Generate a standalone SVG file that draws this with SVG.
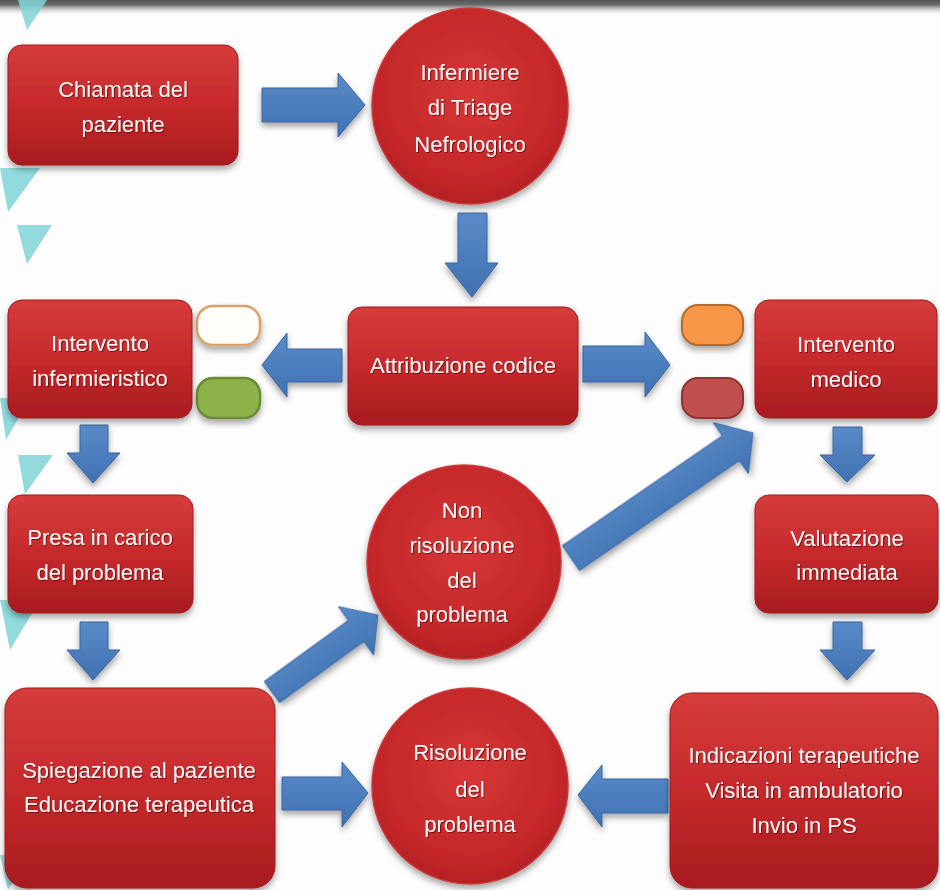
<svg xmlns="http://www.w3.org/2000/svg" width="940" height="890" viewBox="0 0 940 890">
<defs>
  <linearGradient id="gRed" x1="0" y1="0" x2="0" y2="1">
    <stop offset="0" stop-color="#d63c3c"/>
    <stop offset="0.5" stop-color="#c62a2c"/>
    <stop offset="1" stop-color="#a81c1f"/>
  </linearGradient>
  <radialGradient id="gCirc" cx="0.5" cy="0.42" r="0.6">
    <stop offset="0" stop-color="#d63636"/>
    <stop offset="0.8" stop-color="#c32729"/>
    <stop offset="1" stop-color="#b01f22"/>
  </radialGradient>
  <linearGradient id="gBlue" x1="0" y1="0" x2="0" y2="1">
    <stop offset="0" stop-color="#5a8bc8"/>
    <stop offset="1" stop-color="#3f71b2"/>
  </linearGradient>
  <linearGradient id="gTop" x1="0" y1="0" x2="0" y2="1">
    <stop offset="0" stop-color="#555555"/>
    <stop offset="0.3" stop-color="#6a6a6a"/>
    <stop offset="1" stop-color="#ffffff" stop-opacity="0"/>
  </linearGradient>
  <filter id="sh" x="-20%" y="-20%" width="140%" height="150%">
    <feDropShadow dx="0" dy="4" stdDeviation="3" flood-color="#000" flood-opacity="0.35"/>
  </filter>
  <filter id="tsh" x="-10%" y="-30%" width="120%" height="160%">
    <feDropShadow dx="1" dy="1" stdDeviation="0.6" flood-color="#5a0000" flood-opacity="0.7"/>
  </filter>
  <style>
    .box{fill:url(#gRed);stroke:#9c1a1d;stroke-width:1;filter:url(#sh);}
    .circ{fill:url(#gCirc);stroke:#c9383a;stroke-width:1.5;filter:url(#sh);}
    .arr{fill:url(#gBlue);stroke:#3a64a0;stroke-width:1;filter:url(#sh);}
    .lbl{font-family:"Liberation Sans",Arial,sans-serif;font-size:22px;fill:#fbf3f3;text-anchor:middle;filter:url(#tsh);}
    .tri{fill:#7fd3d6;opacity:0.85;}
  </style>
</defs>

<rect x="0" y="0" width="940" height="890" fill="#fdfdfd"/>
<rect x="0" y="0" width="940" height="16" fill="url(#gTop)"/>

<g id="decor">
  <polygon class="tri" points="18,0 47,0 27,30"/>
  <polygon class="tri" points="0,168 40,168 8,212"/>
  <polygon class="tri" points="17,225 52,225 27,264"/>
  <polygon class="tri" points="0,398 30,398 6,440"/>
  <polygon class="tri" points="18,455 53,455 25,494"/>
  <polygon class="tri" points="0,600 40,600 10,650"/>
  <polygon class="tri" points="0,855 30,855 8,890"/>
</g>

<g id="connectors">
  <path class="arr" d="M262,88 L338,88 L338,73 L365,105 L338,137 L338,122 L262,122 Z"/>
  <path class="arr" d="M458,213 L487,213 L487,263 L498,263 L472,297 L445,263 L458,263 Z"/>
  <path class="arr" d="M342,349 L287,349 L287,333 L262,365 L287,397 L287,382 L342,382 Z"/>
  <path class="arr" d="M583,346 L645,346 L645,332 L670,365 L645,397 L645,382 L583,382 Z"/>
  <path class="arr" d="M80,425 L108,425 L108,453 L120,453 L93,483 L67,453 L80,453 Z"/>
  <path class="arr" d="M80,622 L108,622 L108,650 L120,650 L93,680 L67,650 L80,650 Z"/>
  <path class="arr" d="M833,427 L862,427 L862,455 L875,455 L847,482 L820,455 L833,455 Z"/>
  <path class="arr" d="M833,622 L862,622 L862,650 L875,650 L847,680 L820,650 L833,650 Z"/>
  <path class="arr" d="M282,777 L342,777 L342,762 L368,793 L342,827 L342,810 L282,810 Z"/>
  <path class="arr" d="M668,779 L602,779 L602,765 L578,795 L602,827 L602,813 L668,813 Z"/>
  <path class="arr" transform="translate(272,692) rotate(-36)" d="M0,-13 L104,-13 L104,-30 L131,0 L104,30 L104,13 L0,13 Z"/>
  <path class="arr" transform="translate(571,558) rotate(-34.5)" d="M0,-15 L194,-15 L194,-31 L221,0 L194,31 L194,15 L0,15 Z"/>
</g>

<g id="pills">
  <rect x="197" y="306" width="63" height="39" rx="16" fill="#fffdf8" stroke="#d6a36c" stroke-width="2.5" filter="url(#sh)"/>
  <rect x="197" y="378" width="63" height="40" rx="16" fill="#8db24a" stroke="#6a8a36" stroke-width="2.5" filter="url(#sh)"/>
  <rect x="682" y="305" width="61" height="40" rx="16" fill="#f79646" stroke="#b46a2c" stroke-width="2" filter="url(#sh)"/>
  <rect x="682" y="378" width="61" height="40" rx="16" fill="#c0504d" stroke="#8c3533" stroke-width="2" filter="url(#sh)"/>
</g>

<g id="n-chiamata">
  <rect class="box" x="8" y="45" width="230" height="120" rx="14"/>
  <text class="lbl" x="123" y="97">Chiamata del</text>
  <text class="lbl" x="123" y="132">paziente</text>
</g>

<g id="n-infermiere">
  <circle class="circ" cx="470" cy="106" r="98"/>
  <text class="lbl" x="470" y="80">Infermiere</text>
  <text class="lbl" x="470" y="115">di Triage</text>
  <text class="lbl" x="470" y="152">Nefrologico</text>
</g>

<g id="n-attribuzione">
  <rect class="box" x="348" y="307" width="230" height="118" rx="14"/>
  <text class="lbl" x="463" y="373">Attribuzione codice</text>
</g>

<g id="n-int-inf">
  <rect class="box" x="8" y="300" width="184" height="118" rx="14"/>
  <text class="lbl" x="100" y="351">Intervento</text>
  <text class="lbl" x="100" y="386">infermieristico</text>
</g>

<g id="n-int-med">
  <rect class="box" x="755" y="300" width="182" height="118" rx="14"/>
  <text class="lbl" x="846" y="352">Intervento</text>
  <text class="lbl" x="846" y="387">medico</text>
</g>

<g id="n-presa">
  <rect class="box" x="8" y="495" width="185" height="118" rx="14"/>
  <text class="lbl" x="100" y="545">Presa in carico</text>
  <text class="lbl" x="100" y="580">del problema</text>
</g>

<g id="n-valutazione">
  <rect class="box" x="755" y="495" width="183" height="118" rx="14"/>
  <text class="lbl" x="847" y="546">Valutazione</text>
  <text class="lbl" x="847" y="580">immediata</text>
</g>

<g id="n-non-risoluzione">
  <circle class="circ" cx="464" cy="562" r="97"/>
  <text class="lbl" x="462" y="518">Non</text>
  <text class="lbl" x="462" y="553">risoluzione</text>
  <text class="lbl" x="462" y="588">del</text>
  <text class="lbl" x="462" y="622">problema</text>
</g>

<g id="n-spiegazione">
  <rect class="box" x="5" y="688" width="270" height="200" rx="22"/>
  <text class="lbl" x="139" y="778">Spiegazione al paziente</text>
  <text class="lbl" x="139" y="812">Educazione terapeutica</text>
</g>

<g id="n-risoluzione">
  <circle class="circ" cx="470" cy="786" r="98"/>
  <text class="lbl" x="470" y="760">Risoluzione</text>
  <text class="lbl" x="470" y="797">del</text>
  <text class="lbl" x="470" y="832">problema</text>
</g>

<g id="n-indicazioni">
  <rect class="box" x="670" y="693" width="268" height="195" rx="22"/>
  <text class="lbl" x="804" y="763">Indicazioni terapeutiche</text>
  <text class="lbl" x="804" y="798">Visita in ambulatorio</text>
  <text class="lbl" x="804" y="833">Invio in PS</text>
</g>
</svg>
